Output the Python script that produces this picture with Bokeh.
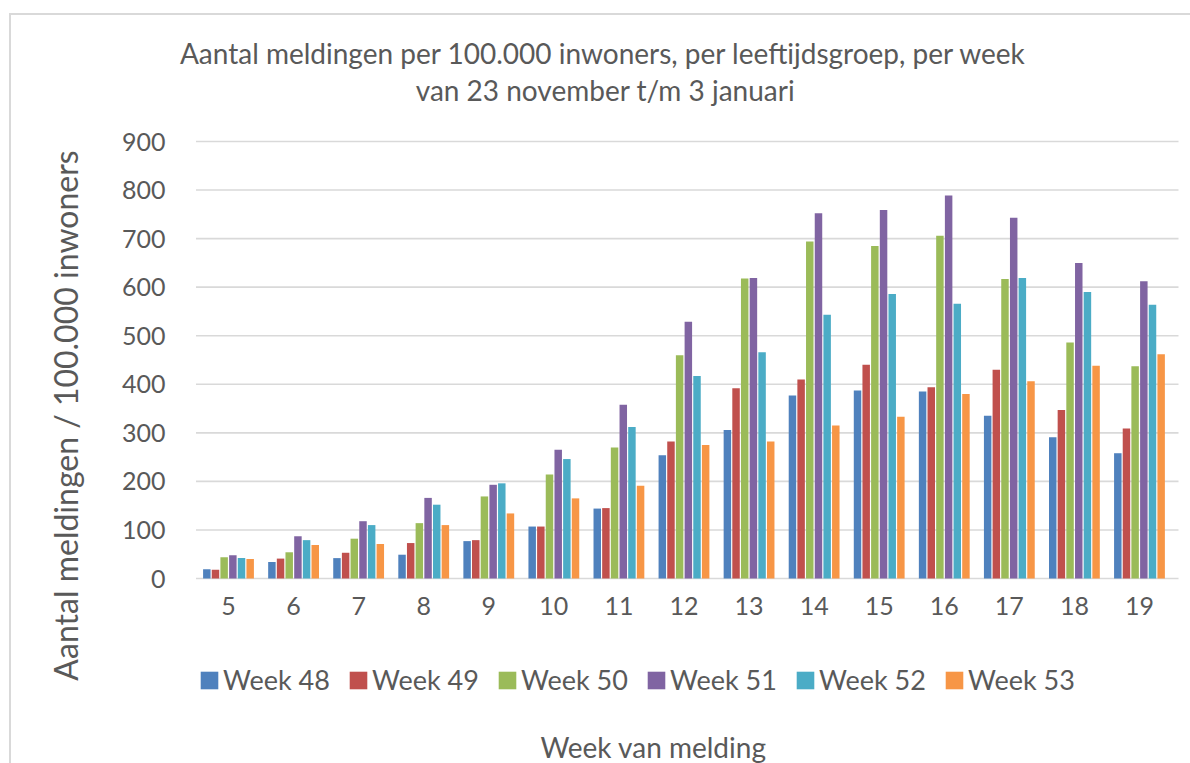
import math
from bokeh.plotting import figure
from bokeh.models import ColumnDataSource, Legend, LegendItem, Label, Range1d
from bokeh.core.properties import value
from bokeh.transform import dodge
from bokeh.embed import file_html
from bokeh.resources import INLINE

groups = ["5", "6", "7", "8", "9", "10", "11", "12", "13", "14", "15", "16", "17", "18", "19"]
week48 = [19, 34, 42, 49, 77, 107, 144, 254, 306, 377, 387, 385, 335, 291, 258]
week49 = [18, 41, 53, 73, 79, 107, 145, 282, 392, 410, 440, 394, 430, 347, 309]
week50 = [44, 54, 82, 114, 169, 214, 270, 460, 618, 694, 685, 706, 617, 486, 437]
week51 = [48, 87, 118, 166, 193, 265, 358, 529, 619, 752, 759, 789, 743, 650, 612]
week52 = [42, 79, 110, 152, 196, 246, 312, 417, 466, 543, 586, 566, 619, 590, 564]
week53 = [40, 69, 71, 110, 134, 165, 191, 275, 282, 315, 333, 380, 406, 438, 462]
series_names = ["Week 48", "Week 49", "Week 50", "Week 51", "Week 52", "Week 53"]
colors = ["#4f81bd", "#c0504d", "#9bbb59", "#8064a2", "#4bacc6", "#f79646"]
y_ticks = [0, 100, 200, 300, 400, 500, 600, 700, 800, 900]

title_line1 = "Aantal meldingen per 100.000 inwoners, per leeftijdsgroep, per week"
title_line2 = "van 23 november t/m 3 januari"
y_title = "Aantal meldingen / 100.000 inwoners"
x_title = "Week van melding"

FONT = "Lato"
TXT = "#595959"
W, H = 1190, 763

# layout geometry (pixels): category 0 centre, category step, value 0 and 900 rows
CX0, STEP = 228.0, 65.07
Y0, Y900 = 578.0, 141.0
K = (Y0 - Y900) / 900.0


def dx(px):
    return (px - CX0) / STEP


def dy(py):
    return (Y0 - py) / K


idx = list(range(len(groups)))
source = ColumnDataSource(dict(idx=idx, w48=week48, w49=week49, w50=week50,
                               w51=week51, w52=week52, w53=week53))
cols = ["w48", "w49", "w50", "w51", "w52", "w53"]

p = figure(x_range=Range1d(dx(0), dx(W)), y_range=Range1d(dy(H), dy(0)), width=W, height=H,
           output_backend="svg", toolbar_location=None,
           min_border_left=0, min_border_right=0, min_border_top=0, min_border_bottom=0)
p.styles = {"background": "linear-gradient(#d9d9d9, #d9d9d9) 9px 13px / 2px 100% no-repeat, "
                          "linear-gradient(#d9d9d9, #d9d9d9) 9px 13px / 100% 2px no-repeat, #ffffff"}
p.outline_line_color = None
p.background_fill_color = None
p.border_fill_color = None
p.title.visible = False
p.xaxis.visible = False
p.yaxis.visible = False
p.xgrid.visible = False
p.ygrid.visible = False

# horizontal gridlines at the value ticks
p.segment(x0=dx(195.5), x1=dx(1178), y0=y_ticks, y1=y_ticks, line_color="#d9d9d9", line_width=1.6)

offsets = [-0.333, -0.2, -0.067, 0.067, 0.2, 0.333]
renderers = []
for c, off, col in zip(cols, offsets, colors):
    r = p.vbar(x=dodge("idx", off), top=c, width=0.115, source=source,
               fill_color=col, line_color=None)
    renderers.append(r)

# tick labels
p.text(x=[dx(165)] * len(y_ticks), y=y_ticks, text=[str(t) for t in y_ticks],
       text_align="right", text_baseline="middle", text_font=value(FONT),
       text_font_size=value("25px"), text_color=TXT)
p.text(x=idx, y=[dy(605)] * len(groups), text=groups,
       text_align="center", text_baseline="middle", text_font=value(FONT),
       text_font_size=value("25px"), text_color=TXT)

legend = Legend(items=[LegendItem(label=n, renderers=[r]) for n, r in zip(series_names, renderers)],
                orientation="horizontal", location=(198, H - 696), padding=0, margin=0,
                glyph_width=22, glyph_height=22, label_standoff=3, label_width=124, label_height=28,
                spacing=0, label_text_font=FONT, label_text_font_size="27px",
                label_text_color=TXT, border_line_color=None, background_fill_alpha=0)
p.add_layout(legend)

for txt, px, py, ang, size in [(title_line1, 603, 52, 0, "28px"),
                               (title_line2, 605, 89, 0, "28px"),
                               (x_title, 653, 746, 0, "28px"),
                               (y_title, 65, 415, math.pi / 2, "32px")]:
    p.add_layout(Label(x=dx(px), y=dy(py), text=txt, angle=ang,
                       text_align="center", text_baseline="middle", text_font=FONT,
                       text_font_size=size, text_color=TXT))

open("out.html", "w").write(file_html(p, INLINE))
